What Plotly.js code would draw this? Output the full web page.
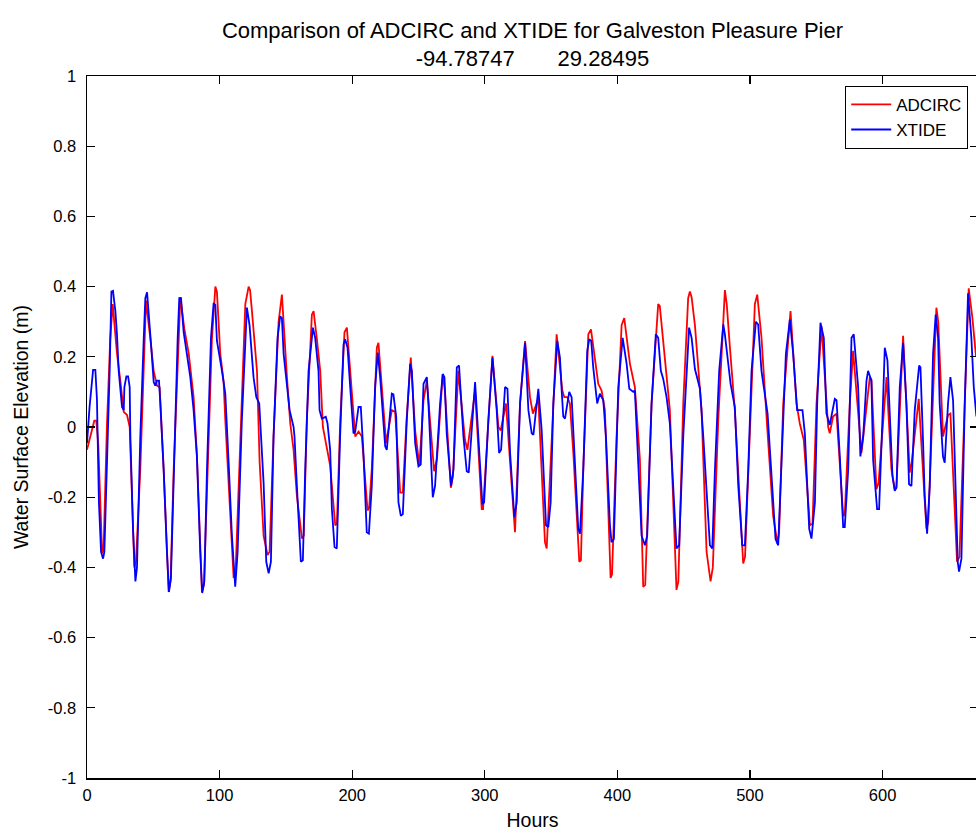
<!DOCTYPE html>
<html>
<head>
<meta charset="utf-8">
<script src="https://cdn.plot.ly/plotly-3.0.1.min.js"></script>
<style>
html,body{margin:0;padding:0;overflow:hidden;background:#fff;}
#chart{width:979px;height:835px;}
</style>
</head>
<body>
<div id="chart"></div>
<script>
// ADCIRC series: [hour, water surface elevation (m)]
const adcircPoints = [[0,-0.065],[3,-0.02],[5.5,0.018],[7,0.018],[8.5,-0.05],[11.4,-0.36],[12.5,-0.35],[15,0.0],[17.5,0.25],[19.4,0.35],[22.6,0.21],[25.2,0.13],[27.7,0.043],[30.2,0.034],[32.2,0.0],[35.7,-0.40],[37,-0.38],[40.2,-0.12],[44.5,0.36],[47.8,0.25],[50.3,0.16],[52.8,0.118],[54.8,0.113],[57.8,-0.12],[61.6,-0.47],[63,-0.44],[65.4,-0.12],[70.4,0.37],[73.4,0.28],[76.7,0.21],[80.4,0.085],[82.9,-0.08],[86.7,-0.47],[88.2,-0.45],[90.5,-0.17],[94.2,0.25],[96.8,0.4],[98,0.385],[100.5,0.21],[103,0.13],[104.3,0.02],[107.6,-0.215],[110.6,-0.43],[112,-0.42],[115.6,-0.027],[119.4,0.35],[121.9,0.40],[123,0.39],[124.4,0.33],[128.2,0.16],[130.2,-0.10],[133.2,-0.31],[136.2,-0.365],[137.7,-0.355],[140.7,-0.027],[144.5,0.30],[147,0.377],[148.3,0.29],[150.8,0.142],[153.3,0.01],[155.8,-0.065],[158.3,-0.196],[162.1,-0.318],[163.5,-0.31],[165.8,0.02],[169.6,0.32],[170.9,0.33],[173.4,0.25],[175.9,0.16],[177.9,0.0],[180.4,-0.046],[183.4,-0.11],[187.2,-0.28],[188.5,-0.275],[191,0.02],[194.2,0.27],[196,0.283],[198.5,0.16],[202.3,-0.027],[204.8,-0.013],[207.3,-0.027],[211.6,-0.238],[212.8,-0.23],[214.8,-0.12],[218.6,0.226],[219.8,0.24],[222.4,0.114],[225.6,-0.046],[229.9,0.048],[232.4,0.043],[236.2,-0.187],[238.2,-0.187],[241,0.02],[244.2,0.198],[247.5,-0.01],[250.7,-0.11],[253.8,0.076],[256.3,0.132],[261.8,-0.126],[264,-0.09],[268.3,0.151],[270,0.1],[274.4,-0.173],[276,-0.14],[280.1,0.16],[285.1,-0.037],[286.9,-0.065],[292.7,0.104],[297.7,-0.234],[298.7,-0.234],[302.5,0.0],[305.8,0.203],[310.3,0.0],[312,-0.01],[316,0.067],[319.6,-0.12],[322.8,-0.3],[326.6,0.067],[330.4,0.245],[334.1,0.085],[336.3,0.038],[340.4,0.08],[345.4,-0.328],[346.7,-0.346],[350.4,-0.027],[354.2,0.264],[358.5,0.104],[360,0.085],[362.2,0.085],[364.2,0.067],[366.8,-0.074],[371.3,-0.384],[372.5,-0.38],[374.3,-0.12],[378.1,0.264],[380.1,0.278],[383.6,0.18],[385.6,0.123],[388.1,0.104],[390.6,0.048],[394.9,-0.43],[396,-0.42],[399.4,-0.027],[403.2,0.29],[405.2,0.31],[409.5,0.18],[413.2,0.114],[417,-0.093],[419.5,-0.455],[421,-0.45],[425.8,0.067],[430.8,0.35],[432,0.345],[435.3,0.21],[439.6,0.048],[444.6,-0.464],[446,-0.44],[449.7,0.067],[453.4,0.367],[454.7,0.386],[456,0.37],[458.5,0.29],[463.5,0.048],[467.3,-0.356],[470.3,-0.44],[472,-0.40],[476.1,0.02],[481.1,0.39],[482.5,0.35],[484.9,0.226],[488.6,0.048],[492.4,-0.215],[494.9,-0.389],[496.3,-0.37],[498.7,-0.12],[503.7,0.35],[505.5,0.377],[508.7,0.255],[513,0.0],[517.5,-0.253],[520.8,-0.332],[522,-0.3],[525.1,0.067],[530.6,0.33],[535.1,0.067],[537.6,0.01],[540.6,-0.037],[545.2,-0.28],[547.2,-0.275],[550.2,0.067],[554,0.287],[559,0.0],[560.2,-0.018],[562.7,0.03],[565.3,0.038],[570.3,-0.253],[571.5,-0.25],[575.3,0.067],[577.8,0.217],[582.8,-0.027],[584.1,-0.074],[590.4,0.142],[591.6,0.135],[595.4,-0.177],[597,-0.16],[603,0.142],[606.7,-0.12],[609.2,-0.177],[610.5,-0.17],[615.5,0.26],[620.5,-0.13],[622,-0.1],[627.3,0.08],[633.1,-0.29],[634.5,-0.27],[640.6,0.34],[642,0.3],[645.6,-0.027],[649.4,0.034],[651.2,0.038],[656.2,-0.384],[658,-0.37],[665,0.395],[667.8,0.31],[670.5,0.2]];

// XTIDE series: [hour, water surface elevation (m)]
const xtidePoints = [[0,-0.046],[2,0.06],[4.6,0.163],[6.3,0.163],[7.5,0.08],[8.2,-0.03],[9,-0.215],[10.6,-0.356],[12.1,-0.375],[13.1,-0.356],[15.1,-0.12],[17.1,0.16],[18.4,0.386],[19.6,0.388],[21.4,0.33],[22.6,0.264],[23.9,0.16],[25.2,0.095],[26.4,0.057],[27.7,0.048],[28.2,0.114],[29.7,0.144],[31,0.144],[32.2,0.114],[32.7,-0.027],[34.7,-0.29],[36.5,-0.44],[37.7,-0.40],[40.2,-0.027],[42.8,0.254],[44,0.367],[45.3,0.384],[46.5,0.33],[48.3,0.236],[50.3,0.128],[51.5,0.118],[52.8,0.132],[54.3,0.132],[55.3,0.067],[57.8,-0.12],[60.3,-0.356],[61.8,-0.47],[63.3,-0.43],[65.4,-0.12],[68.4,0.254],[69.6,0.367],[70.9,0.367],[72.9,0.27],[75.4,0.2],[77.9,0.142],[80.4,0.048],[82.9,-0.084],[85.4,-0.356],[86.9,-0.473],[88.5,-0.44],[90.5,-0.12],[93.5,0.254],[95.5,0.353],[96.8,0.348],[98,0.245],[101.8,0.16],[104.3,0.095],[106.8,-0.1],[109.3,-0.31],[111.8,-0.455],[113.6,-0.356],[116.8,0.02],[120.6,0.34],[122.6,0.29],[125.6,0.142],[127.7,0.085],[129.9,0.067],[133.2,-0.16],[135.2,-0.384],[137,-0.417],[138.7,-0.384],[140.7,-0.027],[143.7,0.254],[145.7,0.315],[147,0.31],[148.3,0.208],[150.8,0.114],[152.8,0.048],[155.8,0.0],[156.5,-0.027],[158.3,-0.168],[161.3,-0.384],[162.8,-0.38],[164.6,-0.12],[167.1,0.16],[170.4,0.283],[172.1,0.254],[174.6,0.16],[175.4,0.048],[177.1,0.024],[180.1,0.029],[181.4,0.01],[183.4,-0.065],[184.7,-0.234],[186.7,-0.342],[188.4,-0.346],[190.9,-0.027],[193.5,0.236],[194.7,0.25],[196.5,0.226],[198.5,0.114],[201,-0.018],[202.3,-0.013],[204.8,0.057],[206.5,0.057],[208.5,-0.074],[211,-0.3],[212.6,-0.304],[214.8,-0.168],[217.3,0.114],[219.3,0.212],[221.1,0.142],[224.9,-0.055],[226.1,-0.065],[229.9,0.095],[231.1,0.093],[233.2,0.029],[234.9,-0.215],[236.7,-0.253],[238.2,-0.248],[241.2,0.02],[243.7,0.18],[245,0.16],[247.5,-0.046],[250,-0.112],[251.7,-0.107],[253.8,0.123],[256.3,0.142],[257.5,0.067],[260.8,-0.2],[262.5,-0.168],[266.3,0.067],[268.3,0.151],[269.6,0.142],[271.3,-0.018],[274.6,-0.168],[276.4,-0.121],[278.9,0.17],[280.6,0.175],[283.9,-0.027],[286.4,-0.126],[287.9,-0.13],[292.7,0.128],[296.5,-0.121],[298.2,-0.22],[299.5,-0.215],[302.7,0.02],[305.8,0.198],[309,0.048],[310.8,-0.074],[312.3,-0.065],[315.3,0.114],[317.1,0.109],[319.1,-0.074],[322.3,-0.257],[324.1,-0.215],[326.6,0.067],[330.4,0.24],[332.9,0.048],[335.4,-0.018],[336.7,-0.022],[340.4,0.109],[342.9,-0.008],[346.2,-0.28],[347.9,-0.285],[349.7,-0.215],[351.7,0.067],[354.7,0.245],[356.7,0.198],[358,0.104],[359.2,0.03],[360.5,0.024],[363.7,0.1],[365.5,0.085],[368,-0.121],[370.5,-0.29],[371.8,-0.304],[374.3,-0.121],[377.3,0.217],[378.8,0.25],[380.3,0.245],[381.8,0.17],[384.8,0.067],[386.8,0.095],[389.4,0.076],[391.4,-0.027],[394.4,-0.28],[395.6,-0.328],[397.4,-0.319],[400.7,0.114],[404,0.254],[407,0.18],[409,0.109],[412,0.1],[413.2,0.104],[415.7,-0.102],[418.3,-0.31],[420.8,-0.337],[422.5,-0.31],[425.8,0.067],[429,0.264],[430.8,0.254],[432.8,0.16],[434.6,0.137],[437.1,0.085],[439.6,0.01],[442.1,-0.168],[444.6,-0.346],[446.6,-0.337],[449.7,-0.027],[454.1,0.283],[456,0.254],[458.5,0.165],[462.3,0.109],[464.8,-0.027],[467.3,-0.168],[469.8,-0.337],[471.6,-0.346],[473.6,-0.121],[476.8,0.16],[479.9,0.292],[481.1,0.264],[485.4,0.123],[488.6,0.057],[491.2,-0.168],[494.2,-0.337],[496.2,-0.337],[498.7,-0.121],[501.2,0.16],[504.5,0.3],[506.2,0.292],[508.7,0.16],[513.3,0.038],[516.3,-0.14],[519.3,-0.319],[521.3,-0.337],[523.8,-0.121],[527.1,0.208],[530.1,0.306],[532.6,0.208],[535.6,0.048],[539.6,0.048],[541.4,-0.018],[544.7,-0.29],[546.4,-0.318],[549,-0.215],[550.7,0.067],[553.2,0.297],[555.7,0.254],[557.7,0.038],[560.2,0.006],[564,0.08],[565.3,0.076],[567.8,-0.084],[570.3,-0.285],[571.5,-0.285],[574.1,-0.121],[576.6,0.254],[578.3,0.264],[581.6,0.114],[583.3,-0.084],[585.4,-0.027],[587.9,0.132],[589.1,0.16],[591.6,0.132],[592.9,-0.093],[595.9,-0.234],[597.4,-0.234],[599.9,0.02],[601.7,0.226],[603.7,0.19],[605.5,0.029],[607.5,-0.14],[609.2,-0.182],[610.5,-0.173],[613,0.114],[615.5,0.24],[618,0.067],[620,-0.163],[621.8,-0.168],[624.3,0.048],[627.6,0.175],[628.6,0.17],[630.6,-0.046],[631.8,-0.197],[633.6,-0.304],[635.6,-0.168],[638.1,0.208],[640.1,0.32],[641.9,0.254],[643.1,0.067],[645.6,-0.084],[646.9,-0.102],[649.4,0.067],[651.2,0.142],[653.2,0.076],[655.2,-0.168],[656.7,-0.384],[657.7,-0.412],[659.5,-0.375],[662,0.067],[664.5,0.381],[667,0.254],[668.8,0.114],[670.8,0.03]];

const seriesNames = ["ADCIRC", "XTIDE"];
const xTickVals = [0, 100, 200, 300, 400, 500, 600];
const yTickVals = [-1, -0.8, -0.6, -0.4, -0.2, 0, 0.2, 0.4, 0.6, 0.8, 1];
const yTickText = ["-1", "-0.8", "-0.6", "-0.4", "-0.2", "0", "0.2", "0.4", "0.6", "0.8", "1"];
const titleLine1 = "Comparison of ADCIRC and XTIDE for Galveston Pleasure Pier";
const titleLine2 = "-94.78747\u00a0\u00a0\u00a0\u00a0\u00a0\u00a0\u00a029.28495";

const font = "Liberation Sans, Arial, sans-serif";

const traces = [
  {
    x: adcircPoints.map(p => p[0]),
    y: adcircPoints.map(p => p[1]),
    name: seriesNames[0],
    type: "scatter", mode: "lines",
    line: {color: "#ff0000", width: 1.8}
  },
  {
    x: xtidePoints.map(p => p[0]),
    y: xtidePoints.map(p => p[1]),
    name: seriesNames[1],
    type: "scatter", mode: "lines",
    line: {color: "#0000ff", width: 1.8}
  }
];

const axisCommon = {
  showgrid: false, zeroline: false,
  showline: true, linecolor: "#000", linewidth: 1.5,
  mirror: "ticks", ticks: "inside", ticklen: 8, tickwidth: 1.2, tickcolor: "#000",
  tickfont: {family: font, size: 16.5, color: "#000"}
};

const layout = {
  width: 979, height: 835,
  margin: {l: 87, r: 1, t: 76, b: 57},
  paper_bgcolor: "#fff", plot_bgcolor: "#fff",
  font: {family: font, color: "#000"},
  title: {
    text: titleLine1 + "<br>" + titleLine2,
    font: {family: font, size: 22, color: "#000"},
    x: 0.5, xref: "paper", xanchor: "center",
    y: 0.955, yref: "container", yanchor: "bottom"
  },
  xaxis: Object.assign({}, axisCommon, {
    range: [0, 672], tickvals: xTickVals,
    ticktext: xTickVals.map(String),
    ticklabelstandoff: 2,
    title: {text: "Hours", font: {family: font, size: 19.5, color: "#000"}, standoff: 10}
  }),
  yaxis: Object.assign({}, axisCommon, {
    range: [-1, 1], tickvals: yTickVals, ticktext: yTickText,
    ticklabelstandoff: 6,
    title: {text: "Water Surface Elevation (m)", font: {family: font, size: 19.5, color: "#000"}, standoff: 14}
  }),
  showlegend: true,
  legend: {
    x: 0.989, y: 0.986, xanchor: "right", yanchor: "top",
    bgcolor: "#fff", bordercolor: "#000", borderwidth: 1,
    font: {family: font, size: 17, color: "#000"},
    itemwidth: 40,
    tracegroupgap: 0
  }
};

Plotly.newPlot("chart", traces, layout, {displayModeBar: false, staticPlot: true});
</script>
</body>
</html>
